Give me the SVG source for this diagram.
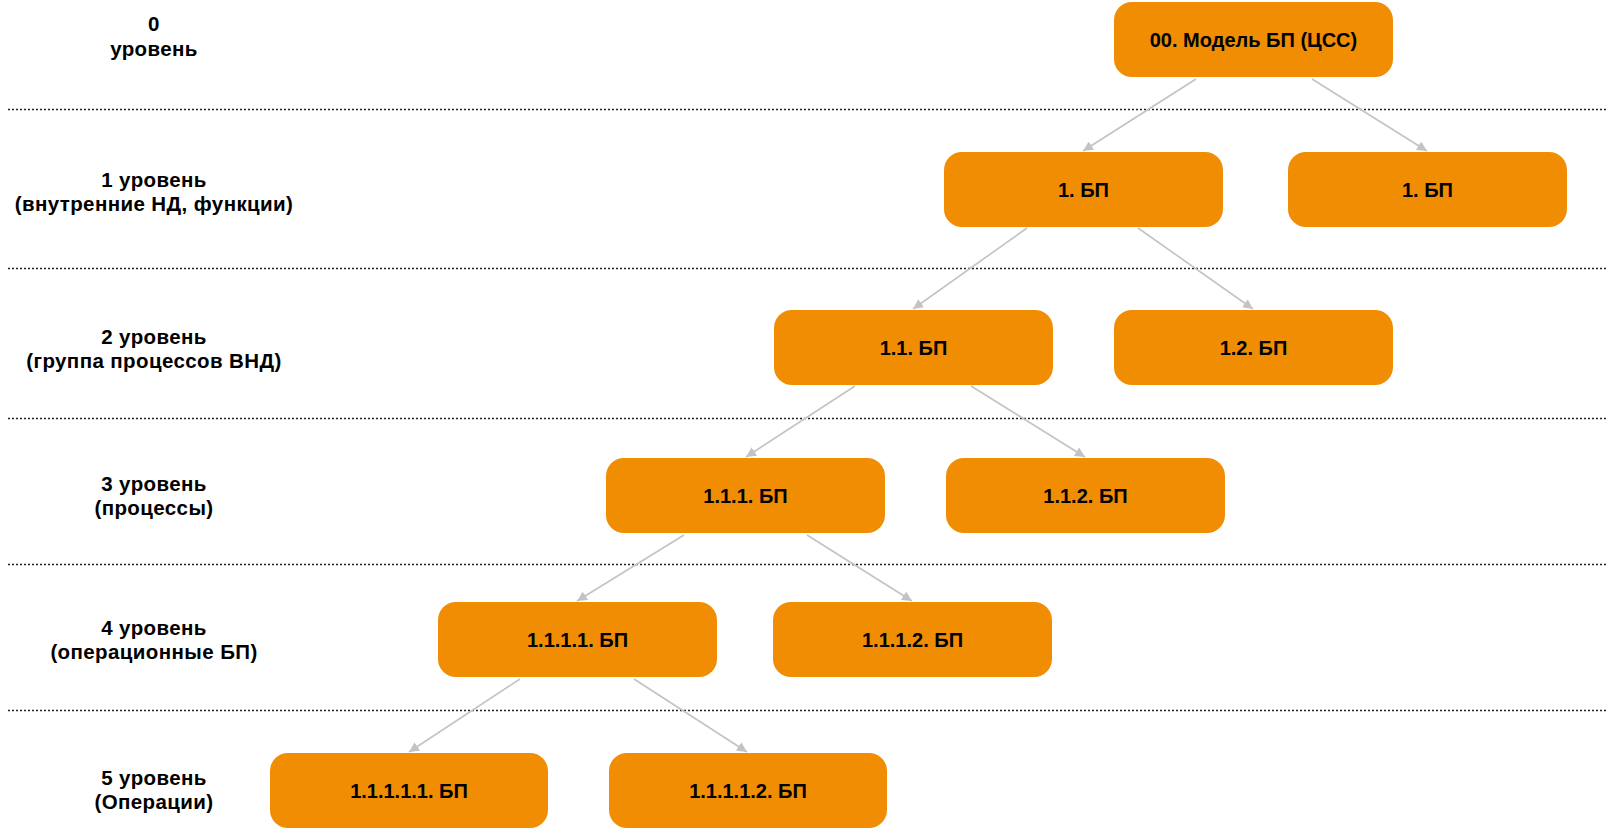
<svg xmlns="http://www.w3.org/2000/svg" width="1610" height="830" viewBox="0 0 1610 830">
<style>
.sep{stroke:#222;stroke-width:1.6;stroke-dasharray:2 2;fill:none}
.lvl{font-family:"Liberation Sans",Arial,sans-serif;font-weight:bold;font-size:20.5px;letter-spacing:0.4px;fill:#000;text-anchor:middle;dominant-baseline:central}
.box{fill:#F08D03}
.nt{font-family:"Liberation Sans",Arial,sans-serif;font-weight:bold;font-size:20px;fill:#000;text-anchor:middle;dominant-baseline:central}
.edge{stroke:#c3c3c3;stroke-width:1.6;fill:none;marker-end:url(#ah)}
</style>
<defs>
<marker id="ah" viewBox="0 0 10 10" refX="10" refY="5" markerWidth="10" markerHeight="10" markerUnits="userSpaceOnUse" orient="auto">
<path d="M0,0 L10,5 L0,10 z" fill="#c3c3c3"/>
</marker>
</defs>
<rect width="1610" height="830" fill="#fff"/>
<g id="separators">
<line class="sep" x1="8" y1="109.5" x2="1607" y2="109.5"/>
<line class="sep" x1="8" y1="268.5" x2="1607" y2="268.5"/>
<line class="sep" x1="8" y1="418.5" x2="1607" y2="418.5"/>
<line class="sep" x1="8" y1="564.5" x2="1607" y2="564.5"/>
<line class="sep" x1="8" y1="710.5" x2="1607" y2="710.5"/>
</g>
<g id="levels">
<text class="lvl" x="154" y="23">0</text>
<text class="lvl" x="154" y="48">уровень</text>
<text class="lvl" x="154" y="179">1 уровень</text>
<text class="lvl" x="154" y="203">(внутренние НД, функции)</text>
<text class="lvl" x="154" y="336">2 уровень</text>
<text class="lvl" x="154" y="360">(группа процессов ВНД)</text>
<text class="lvl" x="154" y="483">3 уровень</text>
<text class="lvl" x="154" y="507">(процессы)</text>
<text class="lvl" x="154" y="627">4 уровень</text>
<text class="lvl" x="154" y="651">(операционные БП)</text>
<text class="lvl" x="154" y="777">5 уровень</text>
<text class="lvl" x="154" y="801">(Операции)</text>
</g>
<g id="connectors">
<line class="edge" x1="1196" y1="79" x2="1083" y2="151"/>
<line class="edge" x1="1312" y1="79" x2="1427" y2="151"/>
<line class="edge" x1="1027" y1="228" x2="913" y2="309"/>
<line class="edge" x1="1138" y1="228" x2="1253" y2="309"/>
<line class="edge" x1="855" y1="386" x2="746" y2="457"/>
<line class="edge" x1="971" y1="386" x2="1085" y2="457"/>
<line class="edge" x1="684" y1="535" x2="577" y2="601"/>
<line class="edge" x1="807" y1="535" x2="912" y2="601"/>
<line class="edge" x1="520" y1="679" x2="409" y2="752"/>
<line class="edge" x1="634" y1="679" x2="747" y2="752"/>
</g>
<g id="n00"><rect class="box" x="1114" y="2" width="279" height="75" rx="18"/><text class="nt" x="1253.5" y="40">00. Модель БП (ЦСС)</text></g>
<g id="n1a"><rect class="box" x="944" y="152" width="279" height="75" rx="18"/><text class="nt" x="1083.5" y="190">1. БП</text></g>
<g id="n1b"><rect class="box" x="1288" y="152" width="279" height="75" rx="18"/><text class="nt" x="1427.5" y="190">1. БП</text></g>
<g id="n11"><rect class="box" x="774" y="310" width="279" height="75" rx="18"/><text class="nt" x="913.5" y="348">1.1. БП</text></g>
<g id="n12"><rect class="box" x="1114" y="310" width="279" height="75" rx="18"/><text class="nt" x="1253.5" y="348">1.2. БП</text></g>
<g id="n111"><rect class="box" x="606" y="458" width="279" height="75" rx="18"/><text class="nt" x="745.5" y="496">1.1.1. БП</text></g>
<g id="n112"><rect class="box" x="946" y="458" width="279" height="75" rx="18"/><text class="nt" x="1085.5" y="496">1.1.2. БП</text></g>
<g id="n1111"><rect class="box" x="438" y="602" width="279" height="75" rx="18"/><text class="nt" x="577.5" y="640">1.1.1.1. БП</text></g>
<g id="n1112"><rect class="box" x="773" y="602" width="279" height="75" rx="18"/><text class="nt" x="912.5" y="640">1.1.1.2. БП</text></g>
<g id="n11111"><rect class="box" x="270" y="753" width="278" height="75" rx="18"/><text class="nt" x="409" y="791">1.1.1.1.1. БП</text></g>
<g id="n11112"><rect class="box" x="609" y="753" width="278" height="75" rx="18"/><text class="nt" x="748" y="791">1.1.1.1.2. БП</text></g>
</svg>
